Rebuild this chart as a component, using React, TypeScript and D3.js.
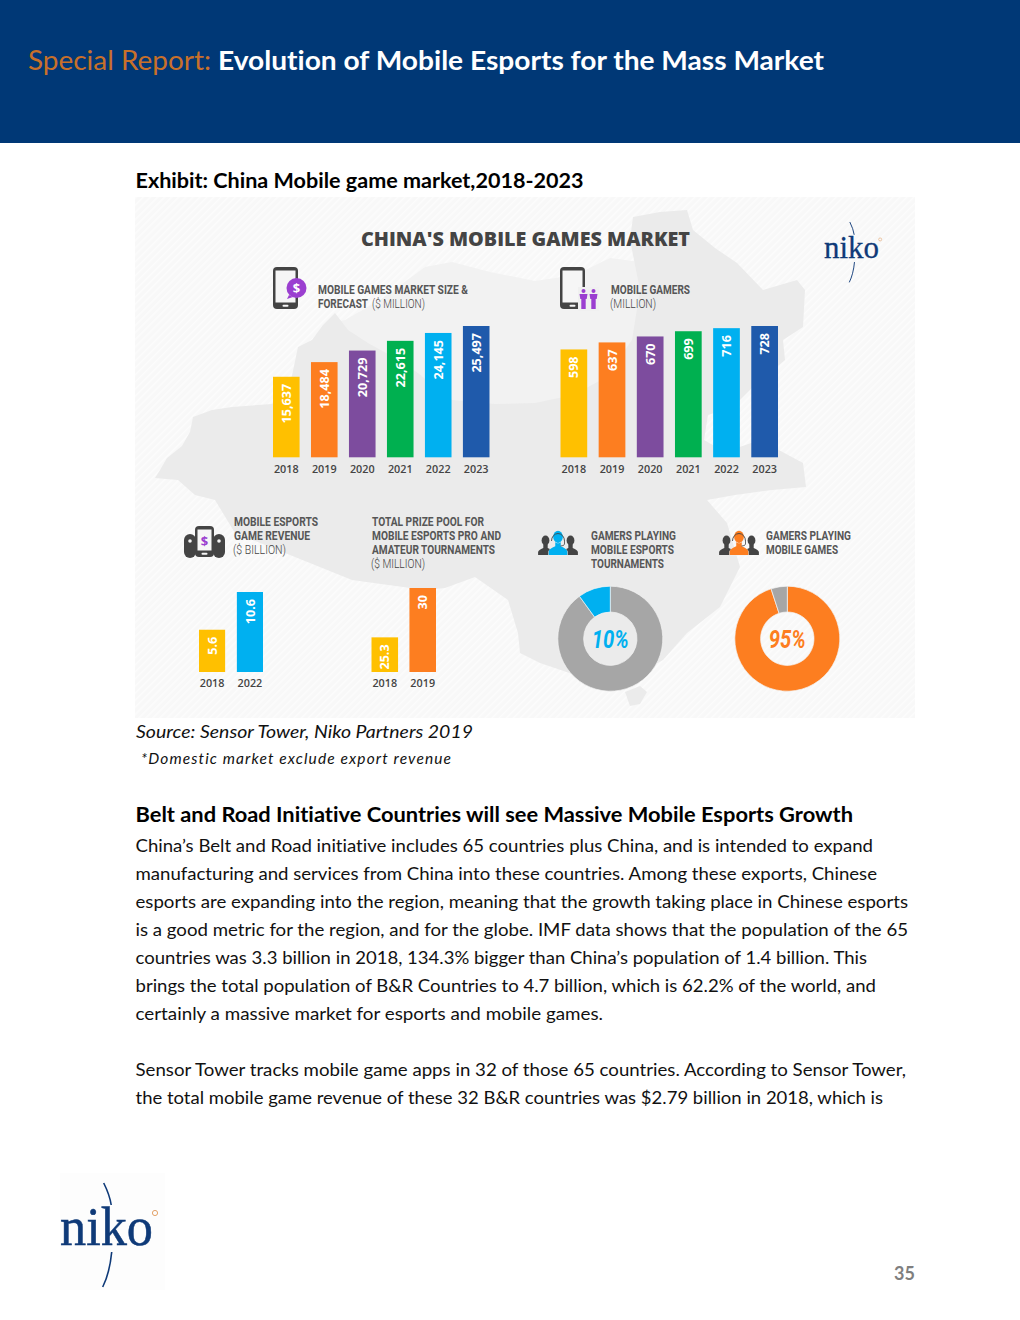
import React from "react";
import * as d3 from "d3";

// values read off the infographic
const marketYears = ["2018", "2019", "2020", "2021", "2022", "2023"];
const marketSize = [15637, 18484, 20729, 22615, 24145, 25497];
const mobileGamers = [598, 637, 670, 699, 716, 728];
const revenueYears = ["2018", "2022"];
const esportsRevenue = [5.6, 10.6];
const prizeYears = ["2018", "2019"];
const prizePool = [25.3, 30];
const tournamentShare = [90, 10];
const mobileGameShare = [95, 5];

const sixColors = ["#ffc000", "#fd7e20", "#7d4c9e", "#00b050", "#00b0f0", "#1f5aab"];

const bodyLines = [
  "China’s Belt and Road initiative includes 65 countries plus China, and is intended to expand",
  "manufacturing and services from China into these countries. Among these exports, Chinese",
  "esports are expanding into the region, meaning that the growth taking place in Chinese esports",
  "is a good metric for the region, and for the globe. IMF data shows that the population of the 65",
  "countries was 3.3 billion in 2018, 134.3% bigger than China’s population of 1.4 billion. This",
  "brings the total population of B&R Countries to 4.7 billion, which is 62.2% of the world, and",
  "certainly a massive market for esports and mobile games.",
  "",
  "Sensor Tower tracks mobile game apps in 32 of those 65 countries. According to Sensor Tower,",
  "the total mobile game revenue of these 32 B&R countries was $2.79 billion in 2018, which is",
];
const bodyLineEnds = [873, 877, 908, 908, 867, 876, 603, 0, 906, 883];

// backdrop map, page coordinates
const mongoliaShape: [number, number][] = [
  [323, 325], [345, 320], [380, 300], [425, 267], [452, 262], [490, 272], [535, 281], [575, 275],
  [610, 258], [640, 262], [640, 340], [610, 380], [535, 410], [450, 405], [400, 375],
];
const chinaShape: [number, number][] = [
  [155, 478], [160, 470], [167, 458], [182, 446], [190, 432], [193, 417], [212, 410], [232, 407],
  [272, 404], [290, 385], [298, 347], [312, 340], [323, 325], [335, 313], [348, 330], [368, 343],
  [395, 358], [418, 373], [436, 388], [452, 400], [495, 404], [535, 403], [573, 395], [605, 378],
  [632, 340], [640, 290], [630, 240], [633, 217], [660, 212], [687, 210], [693, 230], [715, 248],
  [737, 263], [763, 290], [797, 280], [805, 290], [803, 327], [783, 340], [785, 360], [753, 387],
  [733, 407], [708, 415], [704, 440], [725, 452], [760, 440], [803, 463], [806, 487], [772, 490],
  [735, 495], [707, 500], [727, 523], [740, 567], [720, 607], [687, 633], [663, 660], [633, 677],
  [590, 680], [540, 663], [520, 653], [518, 633], [508, 600], [475, 577], [445, 588], [425, 590],
  [352, 580], [295, 557], [235, 533], [215, 500], [195, 495], [178, 480],
];
const hainanShape: [number, number][] = [
  [625, 692], [640, 686], [647, 692], [640, 704], [630, 706],
];

const outline = d3.line().curve(d3.curveLinearClosed);

const LABEL_FONT = "Roboto, sans-serif";
const LABEL_COLOR = "#565656";
const PAGE_FONT = "Lato, sans-serif";
const NO_LIGA = { fontVariantLigatures: "none" } as React.CSSProperties;

function BarPanel({ years, values, colors, domain, x0, x1, base, top, padding }: {
  years: string[];
  values: number[];
  colors: string[];
  domain: [number, number];
  x0: number;
  x1: number;
  base: number;
  top: number;
  padding: number;
}) {
  const x = d3.scaleBand<string>().domain(years).range([x0, x1]).paddingInner(padding);
  const y = d3.scaleLinear().domain(domain).range([base, top]);
  const fmt = (v: number) => (v >= 1000 ? d3.format(",")(v) : String(v));
  return (
    <g>
      {years.map((yr, i) => {
        const bx = x(yr) as number;
        const cx = bx + x.bandwidth() / 2;
        return (
          <g key={yr}>
            <rect x={bx} y={y(values[i])} width={x.bandwidth()} height={base - y(values[i])} fill={colors[i]} />
            <text
              transform={`translate(${cx + 4.6},${y(values[i]) + 7}) rotate(-90)`}
              textAnchor="end"
              fontFamily="'Open Sans', sans-serif"
              fontWeight={700}
              fontSize={12.6}
              fill="#fff"
            >
              {fmt(values[i])}
            </text>
            <text
              x={cx}
              y={base + 15.3}
              textAnchor="middle"
              fontFamily="'Open Sans', sans-serif"
              fontWeight={600}
              fontSize={10.8}
              fill="#444"
            >
              {yr}
            </text>
          </g>
        );
      })}
    </g>
  );
}

function Donut({ cx, cy, values, colors, label, labelColor }: {
  cx: number;
  cy: number;
  values: number[];
  colors: string[];
  label: string;
  labelColor: string;
}) {
  const pie = d3.pie<number>().sort(null)(values);
  const arc = d3.arc<d3.PieArcDatum<number>>().innerRadius(26.7).outerRadius(52.5);
  return (
    <g transform={`translate(${cx},${cy})`}>
      {pie.map((p, i) => (
        <path key={i} d={arc(p) as string} fill={colors[i]} stroke="#f4f4f4" strokeWidth={0.7} />
      ))}
      <text
        x={0}
        y={9}
        textAnchor="middle"
        fontFamily={LABEL_FONT}
        fontStyle="italic"
        fontWeight={700}
        fontSize={26}
        textLength={37}
        lengthAdjust="spacingAndGlyphs"
        fill={labelColor}
      >
        {label}
      </text>
    </g>
  );
}

function Label({ x, y, end, text, light }: { x: number; y: number; end: number; text: string; light?: boolean }) {
  return (
    <text
      x={x}
      y={y}
      fontFamily={LABEL_FONT}
      fontWeight={light ? 300 : 700}
      fontSize={12.6}
      textLength={end - x}
      lengthAdjust="spacingAndGlyphs"
      fill={light ? "#444" : LABEL_COLOR}
    >
      {text}
    </text>
  );
}

function Phone({ x, y, w, h }: { x: number; y: number; w: number; h: number }) {
  return (
    <g>
      <rect x={x} y={y} width={w} height={h} rx={4} fill="#444" />
      <rect x={x + 2.5} y={y + 3.5} width={w - 5} height={h - 10} fill="#f6f6f6" />
      <rect x={x + w / 2 - 3} y={y + h - 4.2} width={6} height={2} rx={1} fill="#f6f6f6" />
    </g>
  );
}

function Person({ cx, base, scale, fill, halo }: { cx: number; base: number; scale: number; fill: string; halo?: string }) {
  const s = scale;
  const body = `M${cx - 7.4 * s},${base} L${cx - 7.4 * s},${base - 3 * s} Q${cx - 7 * s},${base - 5 * s} ${cx - 2.2 * s},${base - 7 * s} L${cx - 2.2 * s},${base - 11 * s} L${cx + 2.2 * s},${base - 11 * s} L${cx + 2.2 * s},${base - 7 * s} Q${cx + 7 * s},${base - 5 * s} ${cx + 7.4 * s},${base - 3 * s} L${cx + 7.4 * s},${base} Z`;
  return (
    <g fill={fill} stroke={halo ?? "none"} strokeWidth={halo ? 0.9 : 0} paintOrder="stroke">
      <path d={body} />
      <ellipse cx={cx} cy={base - 14.6 * s} rx={3.9 * s} ry={4.9 * s} />
    </g>
  );
}

function Gamers({ cx, color }: { cx: number; color: string }) {
  return (
    <g>
      <Person cx={cx - 12.5} base={555} scale={1} fill="#444" />
      <Person cx={cx + 12.5} base={555} scale={1} fill="#444" />
      <Person cx={cx} base={555} scale={1.25} fill={color} halo="#f2f2f2" />
      <path
        d={`M${cx - 6.5},${541} A6.5,7.5 0 0 1 ${cx + 6.5},${541}`}
        fill="none"
        stroke="#444"
        strokeWidth={0.9}
      />
      <path d={`M${cx + 6.5},${541} v3 q0,2 -4,2`} fill="none" stroke="#444" strokeWidth={0.8} />
    </g>
  );
}

function Logo({ x, baseline, width, size, k }: { x: number; baseline: number; width: number; size: number; k: number }) {
  // arcs and ring are placed relative to the word
  const navy = "#0f3a78";
  const mx = x + 0.47 * width;
  return (
    <g>
      <text
        x={x}
        y={baseline}
        fontFamily="'Liberation Serif', serif"
        fontSize={size}
        textLength={width}
        lengthAdjust="spacingAndGlyphs"
        fill={navy}
        stroke={navy}
        strokeWidth={0.5 * k}
      >
        niko
      </text>
      <path
        d={`M${mx},${baseline - 62 * k} Q${mx + 6 * k},${baseline - 50 * k} ${mx + 7.5 * k},${baseline - 40 * k}`}
        fill="none"
        stroke={navy}
        strokeWidth={1.6 * k}
      />
      <path
        d={`M${mx + 8 * k},${baseline + 7 * k} Q${mx + 6 * k},${baseline + 28 * k} ${mx - 1 * k},${baseline + 42 * k}`}
        fill="none"
        stroke={navy}
        strokeWidth={1.6 * k}
      />
      <circle cx={x + width + 2 * k} cy={baseline - 32 * k} r={2.6 * k} fill="none" stroke="#e0995a" strokeWidth={0.9 * k} />
    </g>
  );
}

export default function App() {
  const gold = sixColors[0];
  const orange = sixColors[1];
  const sky = sixColors[4];
  const purple = "#9b3fd0";

  return (
    <svg
      width={1020}
      height={1320}
      viewBox="0 0 1020 1320"
      style={{ position: "absolute", left: 0, top: 0, display: "block", background: "#fff" }}
    >
      <defs>
        <pattern id="stripes" width={5} height={5} patternUnits="userSpaceOnUse" patternTransform="rotate(-45)">
          <rect width={5} height={5} fill="#f8f8f8" />
          <rect width={5} height={1.6} fill="#fcfcfc" />
        </pattern>
      </defs>

      {/* page header */}
      <rect x={0} y={0} width={1020} height={143} fill="#003876" />
      <text x={28} y={70} style={NO_LIGA} fontFamily={PAGE_FONT} fontSize={27} textLength={183} lengthAdjust="spacingAndGlyphs" fill="#c8702a">
        Special Report:
      </text>
      <text x={218} y={70} style={NO_LIGA} fontFamily={PAGE_FONT} fontWeight={700} fontSize={26.5} textLength={606} lengthAdjust="spacingAndGlyphs" fill="#fff">
        Evolution of Mobile Esports for the Mass Market
      </text>
      <text x={135.5} y={188} style={NO_LIGA} fontFamily={PAGE_FONT} fontWeight={700} fontSize={20.5} textLength={448} lengthAdjust="spacingAndGlyphs" fill="#000">
        Exhibit: China Mobile game market,2018-2023
      </text>

      {/* infographic backdrop */}
      <rect x={135} y={197} width={780} height={521} fill="url(#stripes)" />
      <path d={outline(mongoliaShape) as string} fill="#f2f2f2" />
      <path d={outline(chinaShape) as string} fill="#ebebeb" />
      <path d={outline(hainanShape) as string} fill="#ebebeb" />

      <text x={361} y={246} fontFamily="'Open Sans', sans-serif" fontWeight={800} fontSize={20} textLength={329} lengthAdjust="spacingAndGlyphs" fill="#444">
        CHINA'S MOBILE GAMES MARKET
      </text>
      <Logo x={824} baseline={258} width={55} size={32} k={0.58} />

      {/* market size */}
      <Phone x={273} y={267} w={25} h={42} />
      <circle cx={296.5} cy={288} r={10} fill={purple} />
      <path d="M289,295 L287,299 L293,297 Z" fill={purple} />
      <text x={296.5} y={292.5} textAnchor="middle" fontFamily="'Open Sans', sans-serif" fontWeight={700} fontSize={13} fill="#fff">$</text>
      <Label x={318} y={294} end={468} text="MOBILE GAMES MARKET SIZE &" />
      <Label x={318} y={308} end={368} text="FORECAST" />
      <Label x={372} y={308} end={425} text="($ MILLION)" light />
      <BarPanel years={marketYears} values={marketSize} colors={sixColors} domain={[0, 25497]} x0={273} x1={489.5} base={457.3} top={326} padding={0.3} />

      {/* mobile gamers */}
      <Phone x={560} y={267} w={25} h={42} />
      <rect x={578} y={287} width={21} height={24} fill="#f0f0f0" />
      {[583.5, 593.5].map((cx) => (
        <g key={cx} fill={purple}>
          <circle cx={cx} cy={291} r={2} />
          <path d={`M${cx - 4},${294} h8 l-0.8,5 h-1 v10 h-4.4 v-10 h-1 Z`} />
        </g>
      ))}
      <Label x={611} y={294} end={690} text="MOBILE GAMERS" />
      <Label x={610} y={308} end={656} text="(MILLION)" light />
      <BarPanel years={marketYears} values={mobileGamers} colors={sixColors} domain={[0, 728]} x0={560.5} x1={778} base={457.3} top={326} padding={0.3} />

      {/* esports revenue */}
      <rect x={184} y={534} width={12} height={24} rx={6} fill="#444" />
      <rect x={213} y={534} width={12} height={24} rx={6} fill="#444" />
      <circle cx={190} cy={541} r={1.8} fill="#f6f6f6" />
      <circle cx={219} cy={541} r={1.8} fill="#f6f6f6" />
      <Phone x={195} y={526} w={19} h={31} />
      <text x={204.5} y={546} textAnchor="middle" fontFamily="'Open Sans', sans-serif" fontWeight={700} fontSize={13} fill={purple}>$</text>
      <Label x={234} y={526} end={318} text="MOBILE ESPORTS" />
      <Label x={234} y={540} end={310} text="GAME REVENUE" />
      <Label x={233} y={554} end={286} text="($ BILLION)" light />
      <BarPanel years={revenueYears} values={esportsRevenue} colors={[gold, sky]} domain={[0, 10.6]} x0={199} x1={263} base={672} top={592} padding={0.31} />

      {/* prize pool */}
      <Label x={372} y={526} end={484} text="TOTAL PRIZE POOL FOR" />
      <Label x={372} y={540} end={501} text="MOBILE ESPORTS PRO AND" />
      <Label x={372} y={554} end={495} text="AMATEUR TOURNAMENTS" />
      <Label x={371} y={568} end={425} text="($ MILLION)" light />
      <BarPanel years={prizeYears} values={prizePool} colors={[gold, orange]} domain={[22, 30]} x0={371.5} x1={436} base={672} top={588} padding={0.3} />

      {/* gamer shares */}
      <Gamers cx={558} color={sky} />
      <Label x={591} y={540} end={676} text="GAMERS PLAYING" />
      <Label x={591} y={554} end={674} text="MOBILE ESPORTS" />
      <Label x={591} y={568} end={664} text="TOURNAMENTS" />
      <Donut cx={610.3} cy={638.7} values={tournamentShare} colors={["#a6a6a6", sky]} label="10%" labelColor={sky} />

      <Gamers cx={739} color={orange} />
      <Label x={766} y={540} end={851} text="GAMERS PLAYING" />
      <Label x={766} y={554} end={838} text="MOBILE GAMES" />
      <Donut cx={787.3} cy={638.7} values={mobileGameShare} colors={[orange, "#a6a6a6"]} label="95%" labelColor={orange} />

      {/* source notes and body copy */}
      <text x={136} y={737.5} style={NO_LIGA} fontFamily={PAGE_FONT} fontStyle="italic" fontSize={18} textLength={337} lengthAdjust="spacingAndGlyphs" fill="#111">
        Source: Sensor Tower, Niko Partners 2019
      </text>
      <text x={141} y={764} style={NO_LIGA} fontFamily={PAGE_FONT} fontStyle="italic" fontSize={15.5} textLength={310} lengthAdjust="spacing" fill="#111">
        *Domestic market exclude export revenue
      </text>
      <text x={135.5} y={821.5} style={NO_LIGA} fontFamily={PAGE_FONT} fontWeight={700} fontSize={20.5} textLength={717.5} lengthAdjust="spacingAndGlyphs" fill="#000">
        Belt and Road Initiative Countries will see Massive Mobile Esports Growth
      </text>
      {bodyLines.map((line, i) =>
        line ? (
          <text
            key={i}
            x={135.5}
            y={851.5 + i * 28}
            style={NO_LIGA}
            fontFamily={PAGE_FONT}
            fontSize={18}
            textLength={bodyLineEnds[i] - 135.5}
            lengthAdjust="spacingAndGlyphs"
            fill="#111"
          >
            {line}
          </text>
        ) : null
      )}

      {/* footer */}
      <rect x={60} y={1173} width={105} height={117} fill="#fdfdfd" />
      <Logo x={60} baseline={1245} width={93} size={54} k={1} />
      <text x={915} y={1280} textAnchor="end" fontFamily={PAGE_FONT} fontWeight={700} fontSize={18} fill="#7f7f7f">
        35
      </text>
    </svg>
  );
}
